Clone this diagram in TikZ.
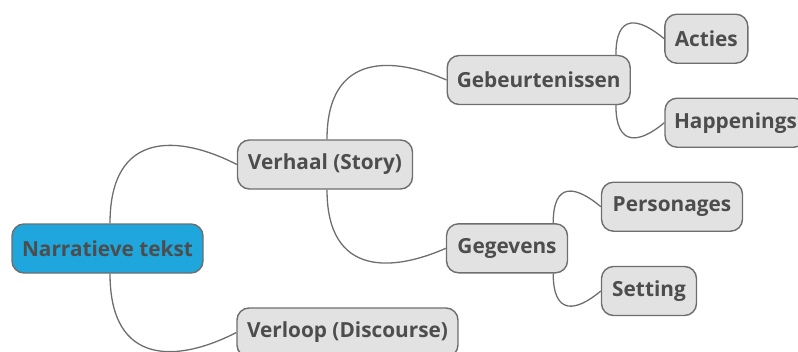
\documentclass[tikz,border=0pt]{standalone}
\usepackage{fontspec}
\setmainfont{Open Sans}[BoldFont={* Bold}]
\usetikzlibrary{calc}
\definecolor{txt}{HTML}{4D4D4D}
\definecolor{boxfill}{HTML}{E2E2E2}
\definecolor{boxline}{HTML}{6E6E6E}
\definecolor{rootfill}{HTML}{1FA6DC}
\begin{document}
\begin{tikzpicture}[x=1pt,y=-1pt,
  topic/.style={draw=boxline, line width=1.4pt, fill=boxfill, rounded corners=12pt,
    minimum height=49pt, inner sep=0pt, text=txt,
    font=\fontsize{20.8}{24}\selectfont\bfseries},
  roottopic/.style={topic, fill=rootfill},
  link/.style={draw=boxline, line width=1.3pt}]
\useasboundingbox (0,0) rectangle (798,351);
\node[roottopic, minimum width=191pt] (root) at (107.5,248.5) {Narratieve tekst};
\node[topic, minimum width=175pt] (verhaal) at (325,164.5) {Verhaal (Story)};
\node[topic, minimum width=183pt] (gebeur) at (538.7,80) {Gebeurtenissen};
\node[topic, minimum width=83pt] (acties) at (706.3,38.7) {Acties};
\node[topic, minimum width=141pt] (happ) at (735.5,122.7) {Happenings};
\node[topic, minimum width=121pt] (gegevens) at (507,248.3) {Gegevens};
\node[topic, minimum width=141pt] (pers) at (672,206.7) {Personages};
\node[topic, minimum width=95pt] (setting) at (649,291) {Setting};
\node[topic, minimum width=221pt] (verloop) at (347.5,332.5) {Verloop (Discourse)};

\draw[link] ($(root.north)+(2.5,0)$) .. controls +(0,-94) and +(-57,-29.5) .. (verhaal.west);
\draw[link] ($(root.south)+(2.5,0)$) .. controls +(0,94) and +(-57,29.5) .. (verloop.west);
\draw[link] ($(verhaal.north)+(2,0)$) .. controls +(0,-88) and +(-52,-23) .. (gebeur.west);
\draw[link] ($(verhaal.south)+(2,0)$) .. controls +(0,88) and +(-52,23) .. (gegevens.west);
\draw[link] ($(gebeur.north east)+(-15,0)$) .. controls +(0,-42) and +(-25,-21) .. (acties.west);
\draw[link] ($(gebeur.south east)+(-15,0)$) .. controls +(0,42) and +(-25,21) .. (happ.west);
\draw[link] ($(gegevens.north east)+(-15,0)$) .. controls +(0,-42) and +(-25,-21) .. (pers.west);
\draw[link] ($(gegevens.south east)+(-15,0)$) .. controls +(0,42) and +(-25,21) .. (setting.west);
\end{tikzpicture}
\end{document}
